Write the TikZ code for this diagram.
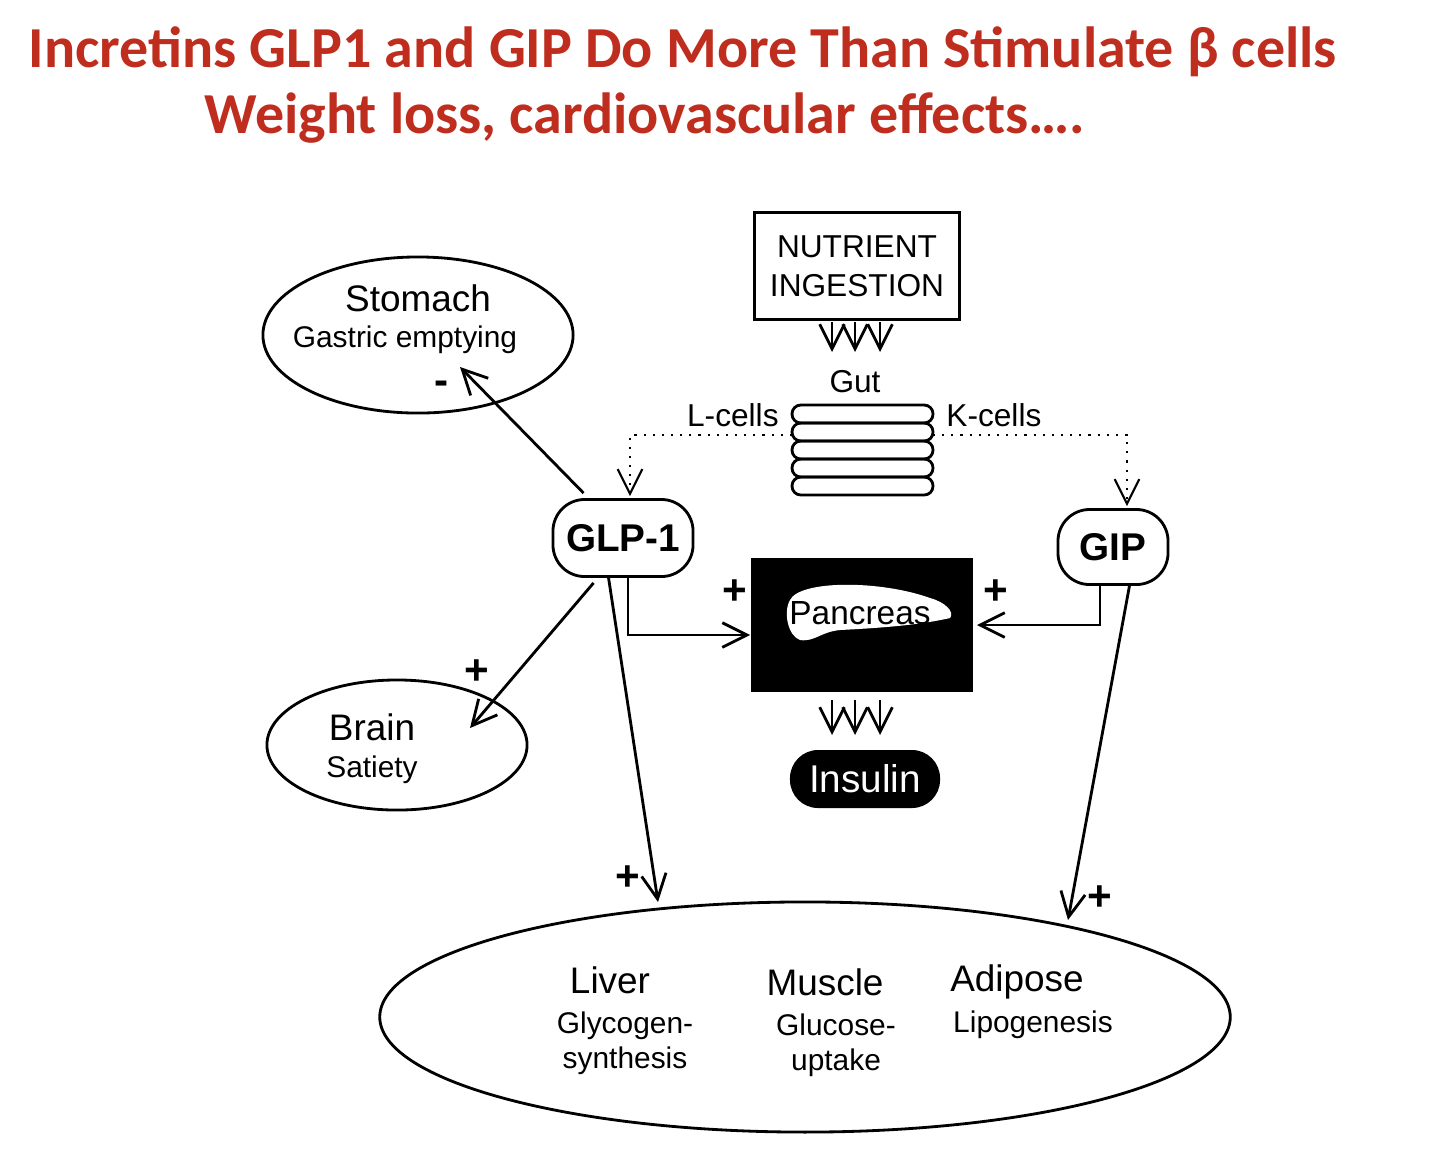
\documentclass[tikz,border=0pt]{standalone}
\usepackage{fontspec}
\setmainfont{Liberation Sans}
\newfontfamily\titlefont{Carlito}
\usetikzlibrary{arrows.meta,positioning,calc,shapes.geometric}
\definecolor{titlered}{RGB}{190,45,30}
\begin{document}
\begin{tikzpicture}[x=0.01cm,y=-0.01cm,->,>={Straight Barb[length=7pt,width=7pt]},thick,
  every node/.style={inner sep=0pt},
  title/.style={font=\titlefont\bfseries\fontsize{16.5}{18}\selectfont,text=titlered},
  bigtxt/.style={font=\fontsize{10.5}{12}\selectfont},
  smalltxt/.style={font=\fontsize{8.5}{10}\selectfont},
  hormone/.style={draw,rounded corners=9pt,font=\bfseries\fontsize{11}{13}\selectfont,align=center},
  organ/.style={draw,ellipse},
  sign/.style={font=\bfseries\fontsize{12}{12}\selectfont}]
  \useasboundingbox (0,0) rectangle (1440,1169);

  % titles
  \node[title] (t1) at (683,52) {Incretins GLP1 and GIP Do More Than Stimulate β cells};
  \node[title] (t2) at (645,118) {Weight loss, cardiovascular effects….};

  % nutrient and gut
  \node[draw,align=center,minimum width=2.05cm,minimum height=1.07cm,
        font=\fontsize{9}{11}\selectfont] (food) at (857,266) {NUTRIENT\\INGESTION};
  \foreach \x in {832,855,880} {
    \coordinate (fa\x) at (\x,322);
    \coordinate (fb\x) at (\x,352);
    \draw (fa\x) -- (fb\x);
  }
  \node[font=\fontsize{9}{10}\selectfont] (gut) at (855,382) {Gut};
  \foreach \i in {0,...,4}
    \draw[-,rounded corners=2.5pt] (792,{405+18*\i}) rectangle (933,{423+18*\i});
  \coordinate (gutL) at (792,435);
  \coordinate (gutR) at (933,435);
  \node[font=\fontsize{9}{10}\selectfont,anchor=east] (lcells) at (780,415) {L-cells};
  \node[font=\fontsize{9}{10}\selectfont,anchor=west] (kcells) at (945,415) {K-cells};

  % hormones
  \node[hormone,minimum width=1.4cm,minimum height=0.77cm] (glp) at (623,538) {GLP-1};
  \node[hormone,minimum width=1.1cm,minimum height=0.75cm] (gip) at (1113,547) {GIP};
  \draw[dotted,semithick] (gutL) -| ($(glp.north)+(7,-2)$);
  \draw[dotted,semithick] (gutR) -| ($(gip.north)+(14,-2)$);

  % pancreas
  \node[fill=black,minimum width=2.21cm,minimum height=1.34cm] (panc) at (862,625) {};
  \fill[white] (790,600) .. controls (800,580) and (880,580) .. (930,598)
    .. controls (945,602) and (955,612) .. (950,618)
    .. controls (920,625) and (880,628) .. (840,630)
    .. controls (820,632) and (815,642) .. (800,640)
    .. controls (788,636) and (783,612) .. (790,600) -- cycle;
  \node[font=\fontsize{9.5}{11}\selectfont] (pname) at (860,613) {Pancreas};
  \node[sign] (p1) at (735,592) {+};
  \node[sign] (p2) at (996,592) {+};
  \draw ($(glp.south)+(5,0)$) |- (panc.west |- 0,635);
  \draw ($(gip.south)+(-13,0)$) |- ($(panc.east |- 0,625)+(3,0)$);
  \foreach \x in {832,855,880} {
    \coordinate (ia\x) at (\x,700);
    \coordinate (ib\x) at (\x,735);
    \draw (ia\x) -- (ib\x);
  }
  \node[fill=black,text=white,rounded corners=8pt,minimum width=1.5cm,minimum height=0.58cm,
        font=\fontsize{11}{13}\selectfont] (ins) at (865,779) {Insulin};

  % organs
  \node[organ,minimum width=3.1cm,minimum height=1.56cm] (stom) at (418,335) {};
  \node[bigtxt] (stomT) at (418,298) {Stomach};
  \node[smalltxt] (stomS) at (405,340) {Gastric emptying};
  \node[sign] (m1) at (442,388) {-};
  \node[organ,minimum width=2.6cm,minimum height=1.3cm] (brain) at (397,745) {};
  \node[bigtxt] (brainT) at (372,727) {Brain};
  \node[smalltxt] (brainS) at (372,770) {Satiety};
  \node[sign] (p3) at (477,672) {+};
  \node[organ,minimum width=8.5cm,minimum height=2.3cm] (body) at (805,1017) {};
  \node[bigtxt] (liver) at (610,980) {Liver};
  \node[smalltxt,align=center] (liverS) at (625,1043) {Glycogen-\\synthesis};
  \node[bigtxt] (muscle) at (825,982) {Muscle};
  \node[smalltxt,align=center] (muscleS) at (836,1045) {Glucose-\\uptake};
  \node[bigtxt] (adip) at (1017,982) {Adipose};
  \node[smalltxt] (adipS) at (1033,1025) {Lipogenesis};
  \node[sign] (p4) at (628,878) {+};
  \node[sign] (p5) at (1100,898) {+};

  \coordinate (stomIn) at (460,367);
  \coordinate (brainIn) at (470,728);
  \coordinate (liverIn) at (658,902);
  \coordinate (adipIn) at (1068,920);
  \draw ($(glp.north west)+(32,-5)$) -- (stomIn);
  \draw ($(glp.south west)+(42,5)$) -- (brainIn);
  \draw ($(glp.south west)+(57,0)$) -- (liverIn);
  \draw ($(gip.south east)+(-40,0)$) -- (adipIn);
\end{tikzpicture}
\end{document}
